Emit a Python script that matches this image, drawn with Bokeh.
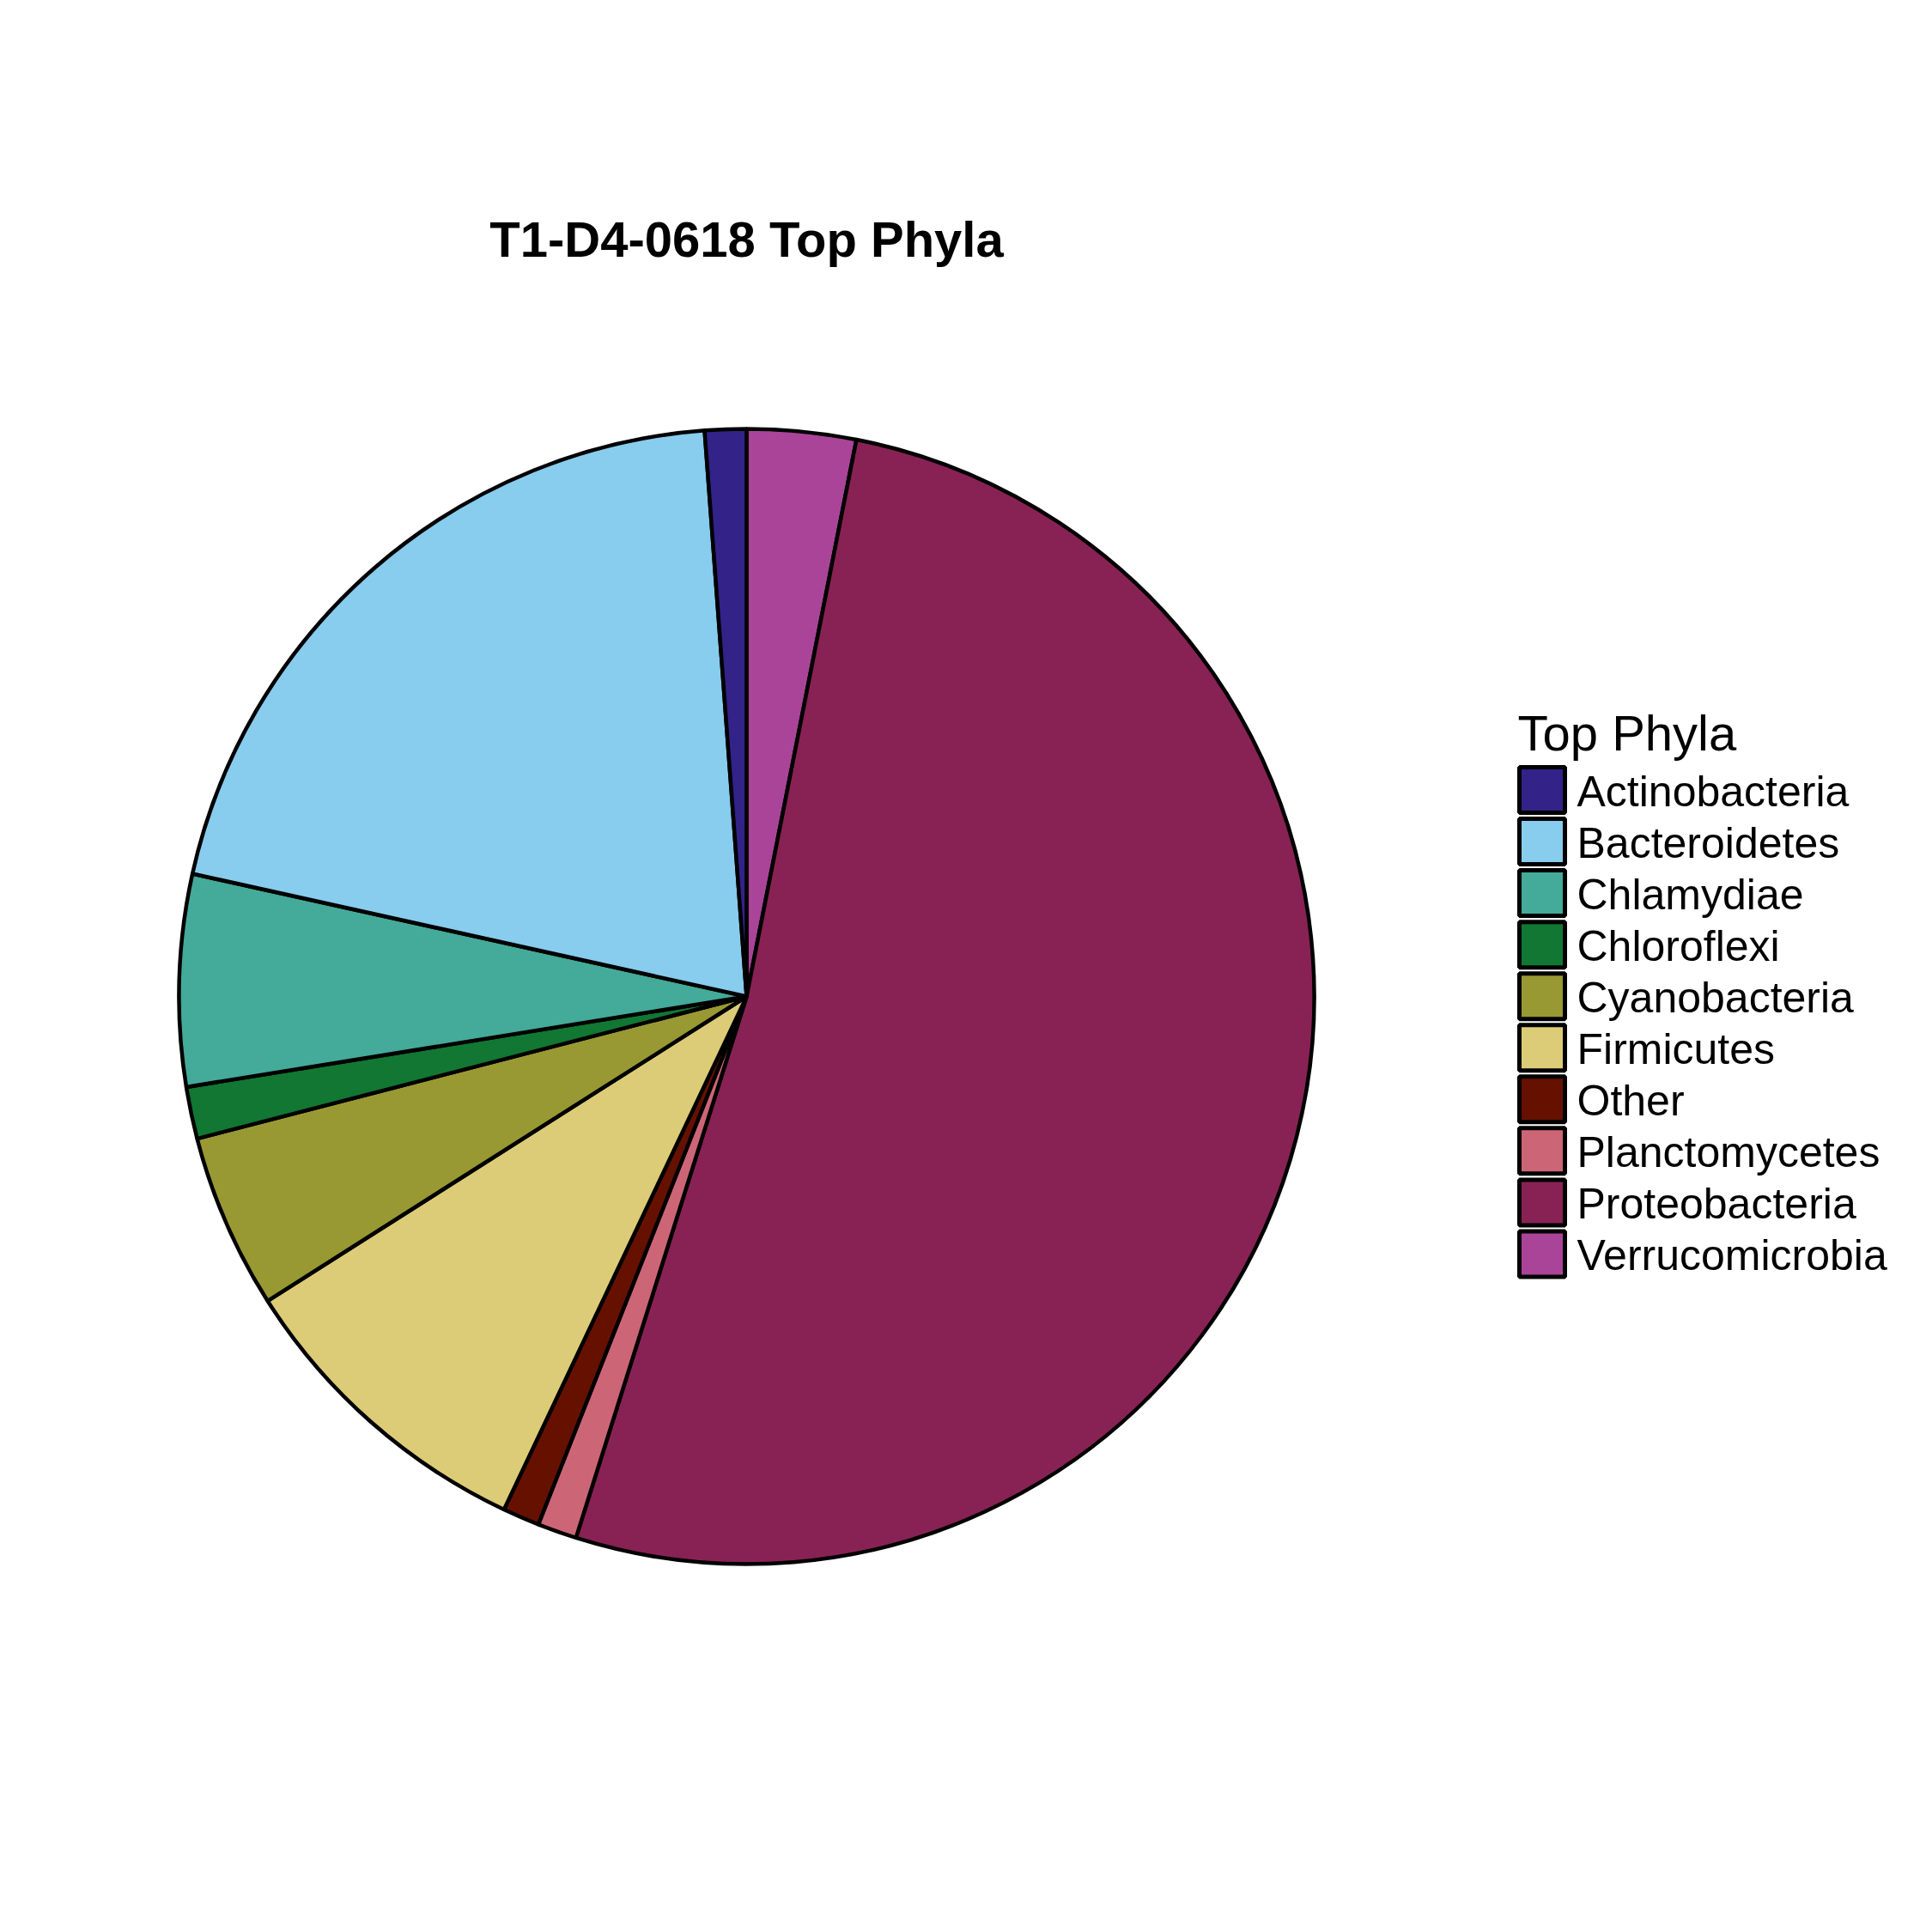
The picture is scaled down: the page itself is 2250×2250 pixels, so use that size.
import numpy as np
from bokeh.plotting import figure
from bokeh.models import Range1d, ColumnDataSource
from bokeh.core.properties import value
from bokeh.embed import file_html
from bokeh.resources import INLINE

# ---- data ----
phyla = ["Actinobacteria", "Bacteroidetes", "Chlamydiae", "Chloroflexi",
         "Cyanobacteria", "Firmicutes", "Other", "Planctomycetes",
         "Proteobacteria", "Verrucomicrobia"]
percent = [1.18, 20.35, 6.02, 1.48, 4.98, 8.96, 1.05, 1.12, 51.76, 3.10]
colors = ["#332288", "#88CCEE", "#44AA99", "#117733", "#999933",
          "#DDCC77", "#661100", "#CC6677", "#882255", "#AA4499"]
title_text = "T1-D4-0618 Top Phyla"
legend_title = "Top Phyla"

H = 2250
W = 2234

p = figure(width=W, height=W, output_backend="svg", toolbar_location=None,
           x_range=Range1d(0, W), y_range=Range1d(H - W, H),
           min_border=0, outline_line_color=None)
p.axis.visible = False
p.grid.visible = False
p.xaxis.visible = False
p.yaxis.visible = False

# pie: clockwise from 12 o'clock, in reverse alphabetical order
order = list(range(len(phyla)))[::-1]
vals = np.array([percent[i] for i in order], dtype=float)
frac = vals / vals.sum()
cum_end = np.cumsum(frac)
cum_start = cum_end - frac
start = np.pi / 2 - cum_start * 2 * np.pi
end = np.pi / 2 - cum_end * 2 * np.pi

cx, cy, r = 869, H - 1160, 661
src = ColumnDataSource(dict(
    start=start, end=end,
    color=[colors[i] for i in order],
    name=[phyla[i] for i in order],
))
p.wedge(x=cx, y=cy, radius=r, start_angle="start", end_angle="end",
        direction="clock", fill_color="color", line_color="black",
        line_width=4.5, source=src)

# title
p.text(x=[869], y=[H - 299 + 21], text=[title_text], text_align="center",
       text_baseline="alphabetic", text_font=value("Liberation Sans"),
       text_font_style="bold", text_font_size="58px", text_color="black")

# legend
p.text(x=[1767], y=[H - 872 + 19], text=[legend_title], text_align="left",
       text_baseline="alphabetic", text_font=value("Liberation Sans"),
       text_font_size="58px", text_color="black")

n = len(phyla)
row_c = [919.5 + 60.05 * i for i in range(n)]
lsrc = ColumnDataSource(dict(
    x=[1795.5] * n,
    y=[H - c for c in row_c],
    ty=[H - (c + 19.5 - 18) for c in row_c],
    tx=[1836] * n,
    color=colors,
    label=phyla,
))
p.rect(x="x", y="y", width=53, height=53, fill_color="color",
       line_color="black", line_width=5, source=lsrc)
p.text(x="tx", y="ty", text="label", text_align="left",
       text_baseline="alphabetic", text_font=value("Liberation Sans"),
       text_font_size="50px", text_color="black", source=lsrc)

open("out.html", "w").write(file_html(p, INLINE))
